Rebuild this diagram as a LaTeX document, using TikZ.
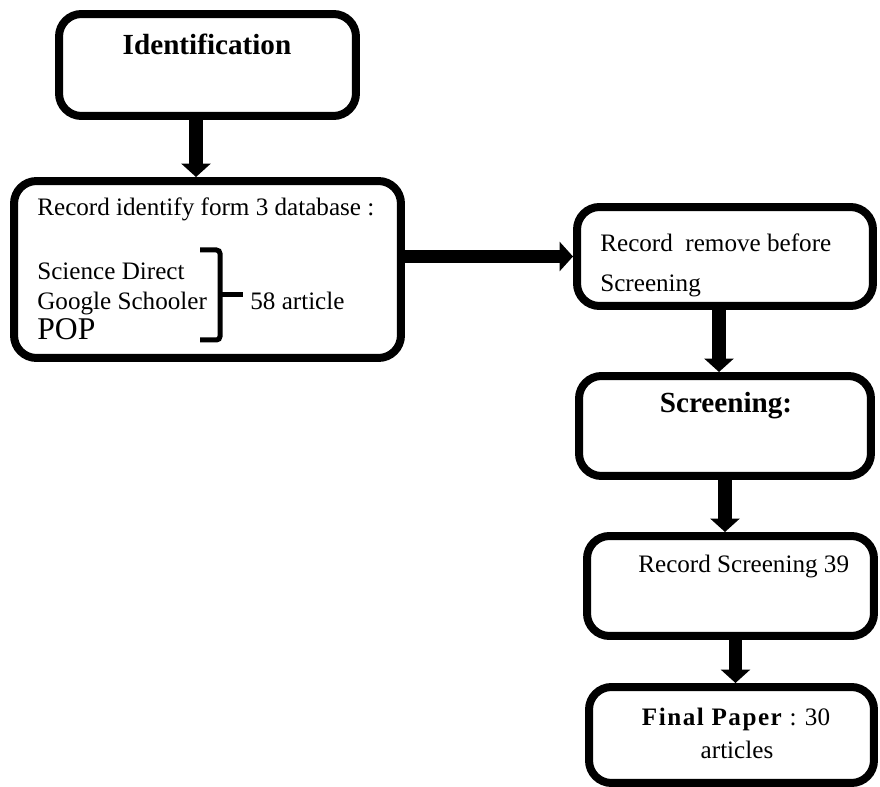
\documentclass[tikz,border=0pt]{standalone}
\usepackage{fontspec}
\setmainfont{Liberation Serif}
\usepackage{tikz}
\usetikzlibrary{arrows.meta}

\tikzset{
	box/.style={draw, line width=0.16cm, rounded corners=0.45cm, inner sep=0pt},
	flow/.style={line width=0.27cm, -{Triangle[width=0.58cm,length=0.27cm]}},
	txt/.style={font=\fontsize{14.3}{17}\selectfont, inner sep=0pt, anchor=base west},
	head/.style={font=\fontsize{16.6}{20}\selectfont\bfseries, inner sep=0pt, anchor=base},
}

\begin{document}
\begin{tikzpicture}[x=0.02cm,y=-0.02cm]
	\useasboundingbox (0,0) rectangle (880,787);
	\node[box, minimum width=5.94cm, minimum height=2.04cm] (ident) at (207.5,65) {};
	\node[box, minimum width=7.74cm, minimum height=3.54cm] (rec) at (207.5,269.5) {};
	\node[box, minimum width=5.92cm, minimum height=1.98cm] (remove) at (725,256.5) {};
	\node[box, minimum width=5.84cm, minimum height=2.0cm] (screen) at (725,426) {};
	\node[box, minimum width=5.74cm, minimum height=2.0cm] (recscr) at (730.5,586) {};
	\node[box, minimum width=5.7cm, minimum height=1.92cm] (final) at (731.5,735) {};
	\node[head] (identtxt) at (207,55) {Identification};
	\node[txt] (dbtxt) at (37,216) {Record identify form 3 database :};
	\node[txt] (sd) at (37,280) {Science Direct};
	\node[txt] (gs) at (37,310) {Google Schooler};
	\node[txt, font=\fontsize{18}{20}\selectfont] (pop) at (37,340) {POP};
	\draw[line width=0.1cm, rounded corners=2pt] (200,250) -- (220,250) -- (220,340) -- (200,340);
	\draw[line width=0.1cm] (220,295) -- (243,295);
	\node[txt] (art) at (250,310) {58 article};
	\node[txt] (rmtxt) at (600,252) {Record\ \ remove before};
	\node[txt] (rmtxt2) at (600,292) {Screening};
	\node[head] (scrtxt) at (726,413) {Screening:};
	\node[txt] (rstxt) at (638,573) {Record Screening 39};
	\node[txt, anchor=base] (fptxt) at (736,725) {\textbf{\addfontfeature{LetterSpace=6}Final Paper} : 30};
	\node[txt, anchor=base] (fatxt) at (737,758) {articles};
	\draw[flow] ([xshift=-0.23cm]ident.south) -- ([xshift=-0.23cm]rec.north);
	\draw[flow] (rec.east |- remove.west) -- (remove.west);
	\draw[flow] ([xshift=-0.12cm]remove.south) -- ([xshift=-0.12cm]screen.north);
	\draw[flow] (screen.south) -- (screen.south |- recscr.north);
	\draw[flow] ([xshift=0.1cm]recscr.south) -- ([xshift=0.1cm]recscr.south |- final.north);
\end{tikzpicture}
\end{document}
